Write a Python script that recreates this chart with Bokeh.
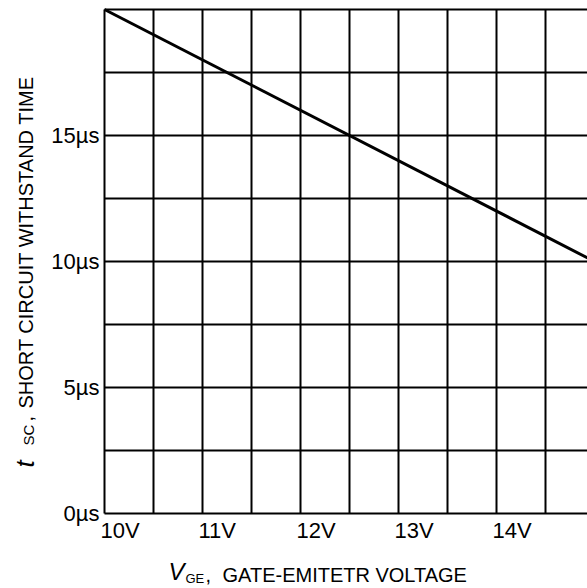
import numpy as np
from bokeh.plotting import figure
from bokeh.models import Range1d, Label
from bokeh.core.properties import value
from bokeh.embed import file_html
from bokeh.resources import INLINE

# ---- data ----
vge = [10.0, 15.0]            # gate-emitter voltage (V)
tsc = [20.0, 10.0]            # short circuit withstand time (us)
x_ticks = [10, 11, 12, 13, 14]
x_tick_labels = ["10V", "11V", "12V", "13V", "14V"]
y_ticks = [0, 5, 10, 15]
y_tick_labels = ["0µs", "5µs", "10µs", "15µs"]
x_grid = [10.0, 10.5, 11.0, 11.5, 12.0, 12.5, 13.0, 13.5, 14.0, 14.5, 15.0]
y_grid = [0.0, 2.5, 5.0, 7.5, 10.0, 12.5, 15.0, 17.5, 20.0]
x_min, x_max = 10.0, 15.0
y_min, y_max = 0.0, 20.0

FONT = "Liberation Sans"
W, H = 587, 588
# plot box placement (pixels)
PX_LEFT, PX_PER_V = 104.0, 98.0
PX_BOTTOM, PX_PER_US = 513.0, 25.2

x_start = x_min - PX_LEFT / PX_PER_V
x_end = x_min + (W - PX_LEFT) / PX_PER_V
y_start = y_min - (H - PX_BOTTOM) / PX_PER_US
y_end = y_min + PX_BOTTOM / PX_PER_US


def dx(px):
    return x_min + (px - PX_LEFT) / PX_PER_V


def dy(py):
    return y_min + (PX_BOTTOM - py) / PX_PER_US


p = figure(width=W, height=H, x_range=Range1d(x_start, x_end), y_range=Range1d(y_start, y_end),
           output_backend="svg", toolbar_location=None,
           x_axis_type=None, y_axis_type=None,
           min_border_left=0, min_border_right=0, min_border_top=0, min_border_bottom=0)
p.outline_line_color = None
p.background_fill_color = "white"
p.border_fill_color = "white"
p.grid.visible = False

# grid cells (axis lines coincide with the first grid lines)
p.segment(x0=x_grid, y0=[y_min] * len(x_grid), x1=x_grid, y1=[y_max] * len(x_grid),
          line_color="black", line_width=2)
p.segment(x0=[x_min] * len(y_grid), y0=y_grid, x1=[x_max] * len(y_grid), y1=y_grid,
          line_color="black", line_width=2)

# curve
p.line(vge, tsc, line_color="black", line_width=3)

# tick labels
p.text(x=[x_min] * len(y_ticks), y=y_ticks, text=y_tick_labels, x_offset=-5, y_offset=0,
       text_align="right", text_baseline="middle",
       text_font=value(FONT), text_font_size=value("22px"), text_color="black")
p.text(x=x_ticks, y=[y_min] * len(x_ticks), text=x_tick_labels, x_offset=-4, y_offset=17,
       text_align="left", text_baseline="middle",
       text_font=value(FONT), text_font_size=value("22px"), text_color="black")


def lab(txt, px, py, size, style="normal", angle=0.0):
    p.add_layout(Label(x=dx(px), y=dy(py), text=txt, text_font=FONT,
                       text_font_size=size, text_font_style=style,
                       text_align="left", text_baseline="middle",
                       text_color="black", angle=angle))


# x axis title: V_GE, GATE-EMITETR VOLTAGE  (py = vertical centre of the text)
lab("V", 168, 571, "24px", "italic")
lab("GE", 185, 578, "13px")
lab(",", 205, 574, "20px")
lab("GATE-EMITETR VOLTAGE", 222, 574, "20px")

# y axis title: t_SC, SHORT CIRCUIT WITHSTAND TIME (rotated; px = horizontal centre)
R = np.pi / 2
lab("t", 24, 467, "26px", "italic", R)
lab("SC", 28, 445, "15px", "normal", R)
lab(",", 25, 421, "20px", "normal", R)
lab("SHORT CIRCUIT WITHSTAND TIME", 25, 408, "20px", "normal", R)

open("out.html", "w").write(file_html(p, INLINE))
